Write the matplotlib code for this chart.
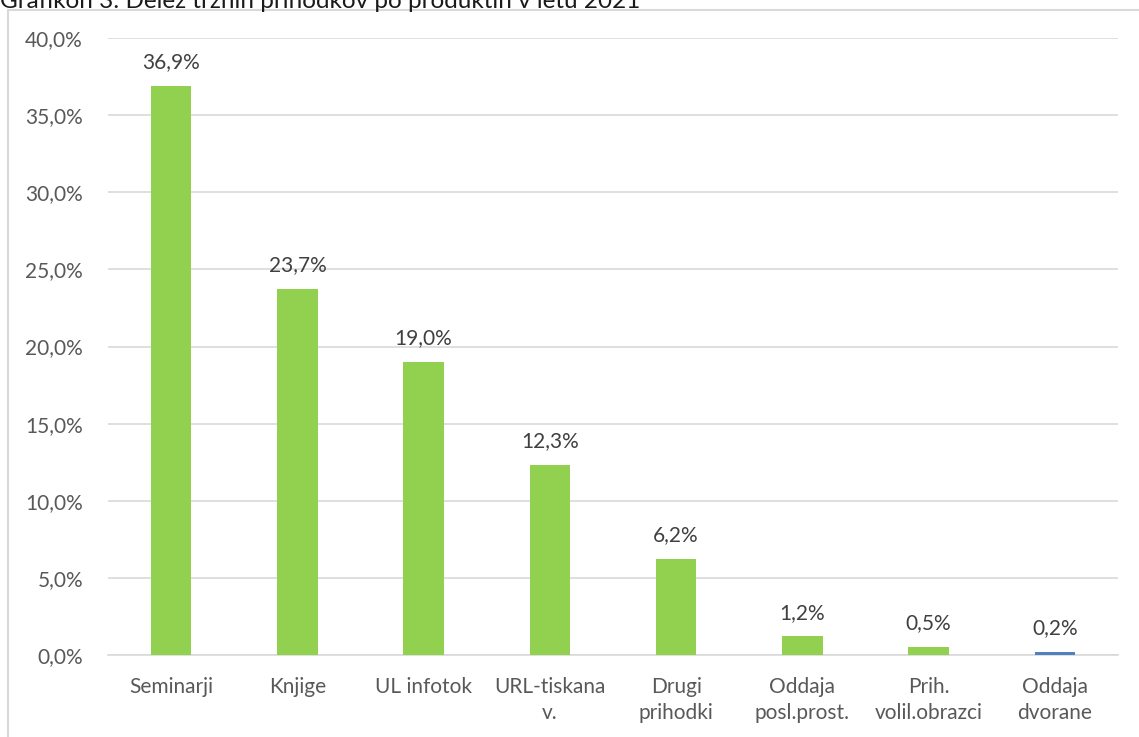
import matplotlib.pyplot as plt
from matplotlib.patches import Rectangle
from matplotlib.ticker import FuncFormatter

categories = ["Seminarji", "Knjige", "UL infotok", "URL-tiskana\nv.", "Drugi\nprihodki",
              "Oddaja\nposl.prost.", "Prih.\nvolil.obrazci", "Oddaja\ndvorane"]
shares = [36.9, 23.7, 19.0, 12.3, 6.2, 1.2, 0.5, 0.2]
bar_colors = ["#92d050"] * 7 + ["#4f81bd"]
title = "Grafikon 3: Delež tržnih prihodkov po produktih v letu 2021"

plt.rcParams["font.family"] = ["Lato", "DejaVu Sans"]
TXT = "#595959"
W, H = 1139, 737

fig = plt.figure(figsize=(W / 100, H / 100), dpi=100)
ax = fig.add_axes([108 / W, 1 - 655 / H, (1118 - 108) / W, (655 - 38) / H])

x = range(len(categories))
ax.bar(x, shares, width=0.32, color=bar_colors, zorder=3)
for xi, v in zip(x, shares):
    ax.annotate(f"{v:.1f}%".replace(".", ","), (xi, v), xytext=(0, 10),
                textcoords="offset points", ha="center", va="bottom",
                fontsize=15, color="#404040")

ax.set_xlim(-0.5, len(categories) - 0.5)
ax.set_ylim(0, 40)
ax.set_yticks(range(0, 41, 5))
ax.yaxis.set_major_formatter(FuncFormatter(lambda v, _: f"{v:.1f}%".replace(".", ",")))
ax.set_xticks(list(x))
ax.set_xticklabels(categories, linespacing=1.35)
ax.tick_params(axis="both", length=0, labelsize=15, labelcolor=TXT)
ax.tick_params(axis="y", pad=18)
ax.tick_params(axis="x", pad=16)
ax.grid(axis="y", color="#d9d9d9", linewidth=1.2, zorder=0)
for s in ["left", "right", "top"]:
    ax.spines[s].set_visible(False)
ax.spines["bottom"].set_color("#d9d9d9")
ax.spines["bottom"].set_linewidth(1.2)

# chart frame (partly cropped in the original)
fig.patches.append(Rectangle((8 / W, -0.05), 1.1, 1 - 10 / H + 0.05, transform=fig.transFigure,
                             fill=False, edgecolor="#d9d9d9", linewidth=1.5))
fig.text(0, 1 - 2 / H, title, fontsize=17.5, color="#1a1a1a", ha="left", va="center")

fig.savefig("out.png", dpi=100)
